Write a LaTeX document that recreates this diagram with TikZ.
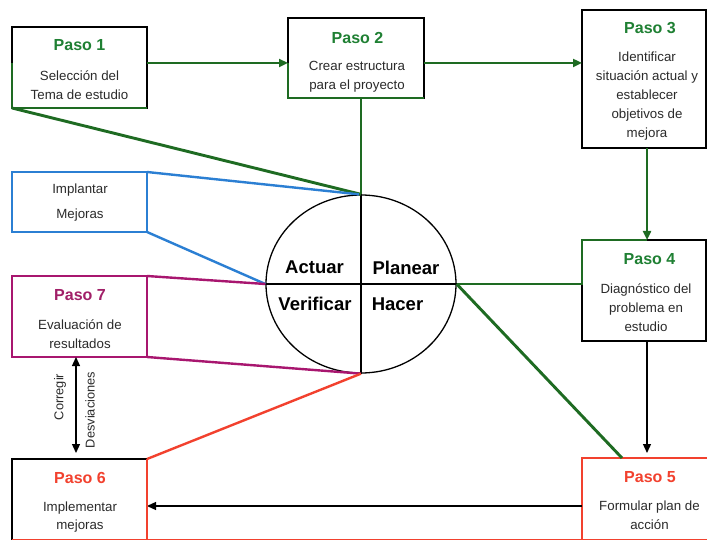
\documentclass[tikz,border=0pt]{standalone}
\usepackage{fontspec}
\setmainfont{Liberation Sans}
\usetikzlibrary{arrows.meta,shapes.geometric}

\definecolor{pgreen}{HTML}{1E6B22}
\definecolor{tgreen}{HTML}{1F8033}
\definecolor{pblue}{HTML}{2B7FD3}
\definecolor{pmag}{HTML}{A8166F}
\definecolor{tmag}{HTML}{A11F68}
\definecolor{pred}{HTML}{F2412E}
\definecolor{ink}{HTML}{2B2B2B}

\begin{document}
\begin{tikzpicture}[x=1pt,y=-1pt,
  box/.style={draw=#1,line width=1.5pt,inner sep=0pt,outer sep=0pt},
  box/.default=black,
  ttl/.style={font=\bfseries\fontsize{16}{16}\selectfont,text=#1,inner sep=0pt},
  body/.style={font=\fontsize{13.3}{18.8}\selectfont,text=ink,align=center,inner sep=0pt},
  phase/.style={font=\bfseries\fontsize{18.5}{18.5}\selectfont,inner sep=0pt},
  gline/.style={draw=pgreen,line width=2.9pt},
  bline/.style={draw=pblue,line width=2.4pt},
  mline/.style={draw=pmag,line width=2.4pt},
  rline/.style={draw=pred,line width=2.4pt},
  kline/.style={draw=black,line width=1.3pt},
  tip/.style={-{Triangle[length=9pt,width=8pt]}},
  tips/.style={{Triangle[length=9pt,width=8pt]}-{Triangle[length=9pt,width=8pt]}},
]
\useasboundingbox (0,0) rectangle (707,540);
\fill[white] (0,0) rectangle (707,540);

% reference columns and rows
\coordinate (rx) at (647,0);
\coordinate (ry) at (0,506);
\coordinate (cx) at (76,0);

% step boxes
\node[box,minimum width=135pt,minimum height=81pt] (p1) at (79.5,67.5) {};
\node[box,minimum width=136pt,minimum height=80pt] (p2) at (356,58) {};
\node[box,minimum width=124pt,minimum height=138pt] (p3) at (644,79) {};
\node[box,minimum width=124pt,minimum height=101pt] (p4) at (644,290.5) {};
\node[box=pred,minimum width=134pt,minimum height=82pt] (p5) at (649,499) {};
\node[box,minimum width=135pt,minimum height=81pt] (p6) at (79.5,499.5) {};
\node[box=pmag,minimum width=135pt,minimum height=81pt] (p7) at (79.5,316.5) {};
\node[box=pblue,minimum width=135pt,minimum height=60pt] (imp) at (79.5,202) {};

% PDCA circle
\node[draw,ellipse,line width=1.3pt,minimum width=190pt,minimum height=178pt,inner sep=0pt] (c) at (361,284) {};
\draw[kline] (c.north) -- (c.south);
\draw[kline] (c.west) -- (c.east);
\node[phase] (act) at (314.5,267) {Actuar};
\node[phase] (pla) at (406,268) {Planear};
\node[phase] (ver) at (315,304) {Verificar};
\node[phase] (hac) at (397.5,304) {Hacer};

% green flow of the planning steps
\draw[gline] ([yshift=4.5pt]p1.west) -- (p1.south west) -- (p1.south east);
\draw[gline,tip] ([yshift=4.5pt]p1.east) -- ([yshift=4.5pt]p1.east -| p2.west);
\draw[gline] ([yshift=4.5pt]p1.east -| p2.west) -- (p2.south west) -- (p2.south east);
\draw[gline,tip] ([yshift=-5pt]p2.east) -- ([yshift=-5pt]p2.east -| p3.west);
\draw[gline,tip] (p3.south -| rx) -- (p4.north -| rx);
\draw[gline] (p1.south west) -- (c.north);
\draw[gline] (p2.south -| c.north) -- (c.north);
\draw[gline] (c.east) -- (c.east -| p4.west) -- (p4.north west) -- (p4.north -| rx);
\draw[gline] (c.east) -- ([xshift=-27pt]p5.north);

% black flow
\draw[kline,tip,shorten >=5pt] (p4.south -| rx) -- (p5.north -| rx);
\draw[kline,tip] (p5.west |- ry) -- (p6.east |- ry);
\draw[kline,tips,shorten >=6pt] (p7.south -| cx) -- (p6.north -| cx);

% act / check / do links
\draw[bline] (imp.north east) -- ([xshift=-2pt]c.north);
\draw[bline] (imp.south east) -- (c.west);
\draw[mline] (p7.north east) -- (c.west);
\draw[mline] (p7.south east) -- (c.south);
\draw[rline] (p6.north east) -- (c.south);
\draw[rline] (p6.north east) -- (p6.south east);
\draw[rline] (p6.south west) -- (p5.south west);

% texts
\node[ttl=tgreen] (t1) at (79.5,45.5) {Paso 1};
\node[body] (b1) at (79.5,85.5) {Selección del\\Tema de estudio};
\node[ttl=tgreen] (t2) at (357.5,37.5) {Paso 2};
\node[body] (b2) at (357,77) {Crear estructura\\para el proyecto};
\node[ttl=tgreen] (t3) at (650,28) {Paso 3};
\node[body] (b3) at (647,96) {Identificar\\situación actual y\\establecer\\objetivos de\\mejora};
\node[ttl=tgreen] (t4) at (649.5,259) {Paso 4};
\node[body] (b4) at (646,307.5) {Diagnóstico del\\problema en\\estudio};
\node[ttl=pred] (t5) at (650,477) {Paso 5};
\node[body] (b5) at (649.5,515.5) {Formular plan de\\acción};
\node[ttl=pred] (t6) at (80,478) {Paso 6};
\node[body] (b6) at (80,517) {Implementar\\mejoras};
\node[ttl=tmag] (t7) at (80,295) {Paso 7};
\node[body] (b7) at (80,334) {Evaluación de\\resultados};
\node[body,font=\fontsize{13.3}{25.5}\selectfont] (bi) at (80,202.5) {Implantar\\Mejoras};
\node[body,font=\fontsize{12.8}{12.8}\selectfont,rotate=90] (corr) at (60,397) {Corregir};
\node[body,font=\fontsize{12.8}{12.8}\selectfont,rotate=90] (desv) at (90,410) {Desviaciones};
\end{tikzpicture}
\end{document}
